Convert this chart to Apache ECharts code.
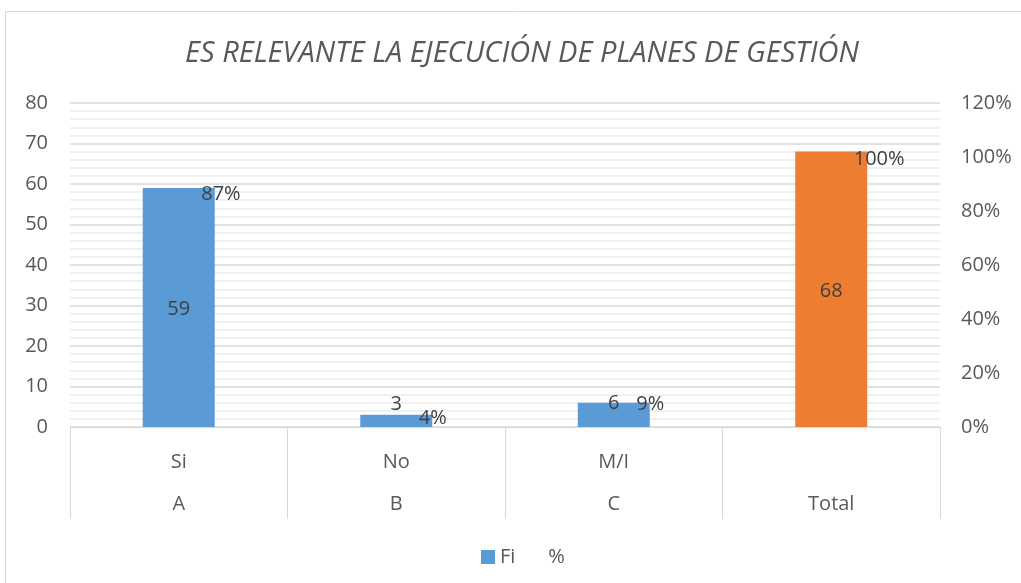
<!DOCTYPE html>
<html>
<head>
<meta charset="utf-8">
<script src="https://cdn.jsdelivr.net/npm/echarts@6/dist/echarts.min.js"></script>
<style>
html,body{margin:0;padding:0;background:#fff;}
#chart{width:1021px;height:583px;}
</style>
</head>
<body>
<div id="chart"></div>
<script>
var titleText = 'ES RELEVANTE LA EJECUCIÓN DE PLANES DE GESTIÓN';
var level1 = ['Si', 'No', 'M/I', ''];
var level2 = ['A', 'B', 'C', 'Total'];
var fiValues = [59, 3, 6, 68];
var pctValues = [0.87, 0.04, 0.09, 1.00];
var pctLabels = ['87%', '4%', '9%', '100%'];
var leftTicks = {min: 0, max: 80, interval: 10};
var rightTicks = {min: 0, max: 1.2, interval: 0.2};

var FONT = '"Open Sans", "Noto Sans", sans-serif';
var BLUE = '#5b9bd5', ORANGE = '#ed7d31';

var fiData = fiValues.map(function (v, i) {
  var d = {value: v};
  if (i === 3) d.itemStyle = {color: ORANGE};
  if (i === 1) d.label = {position: 'top', distance: 3};
  if (i === 2) d.label = {position: 'top', distance: 0, offset: [0, 11]};
  return d;
});

var chart = echarts.init(document.getElementById('chart'), null, {renderer: 'canvas'});
chart.setOption({
  backgroundColor: '#fff',
  animation: false,
  textStyle: {fontFamily: FONT},
  graphic: [{
    type: 'rect', silent: true, z: -10,
    shape: {x: 5.5, y: 11.5, width: 1100, height: 620},
    style: {fill: 'none', stroke: '#d9d9d9', lineWidth: 1}
  }],
  title: {
    text: titleText, left: 185, top: 39, padding: 0,
    textStyle: {fontFamily: FONT, fontSize: 29, fontStyle: 'italic', fontWeight: 'normal', color: '#595959'}
  },
  legend: {
    bottom: 16, left: 481, itemWidth: 14, itemHeight: 14, itemGap: 14, padding: 0,
    textStyle: {fontFamily: FONT, fontSize: 20, color: '#595959'},
    data: [
      {name: 'Fi', icon: 'rect'},
      {name: '%', icon: 'rect', itemStyle: {opacity: 0}}
    ]
  },
  grid: {left: 70, right: 81, top: 103, bottom: 156, containLabel: false},
  xAxis: [{
    type: 'category', data: level1, position: 'bottom',
    axisLine: {show: true, lineStyle: {color: '#d9d9d9', width: 1}},
    axisTick: {show: true, interval: 0, length: 92, lineStyle: {color: '#d9d9d9', width: 1}},
    axisLabel: {margin: 25, fontSize: 20, color: '#595959', fontFamily: FONT, interval: 0}
  }, {
    type: 'category', data: level2, position: 'bottom',
    axisLine: {show: false}, axisTick: {show: false},
    axisLabel: {margin: 67, fontSize: 20, color: '#595959', fontFamily: FONT, interval: 0}
  }],
  yAxis: [{
    type: 'value', min: leftTicks.min, max: leftTicks.max, interval: leftTicks.interval,
    axisLine: {show: false}, axisTick: {show: false},
    axisLabel: {margin: 22, fontSize: 20, color: '#595959', fontFamily: FONT},
    splitLine: {show: true, lineStyle: {color: '#d9d9d9', width: 1.5}},
    minorTick: {show: false, splitNumber: 5},
    minorSplitLine: {show: true, lineStyle: {color: '#ececec', width: 1.5}}
  }, {
    type: 'value', min: rightTicks.min, max: rightTicks.max, interval: rightTicks.interval,
    axisLine: {show: false}, axisTick: {show: false},
    axisLabel: {margin: 21, fontSize: 20, color: '#595959', fontFamily: FONT,
      formatter: function (v) { return Math.round(v * 100) + '%'; }},
    splitLine: {show: false}
  }],
  series: [{
    name: 'Fi', type: 'bar', xAxisIndex: 0, yAxisIndex: 0,
    barWidth: 72, itemStyle: {color: BLUE},
    label: {show: true, position: 'inside', offset: [0, 2], fontSize: 20, color: '#404040', fontFamily: FONT},
    data: fiData
  }, {
    name: '%', type: 'line', xAxisIndex: 0, yAxisIndex: 1,
    symbol: 'circle', symbolSize: 1, showSymbol: true,
    lineStyle: {opacity: 0}, itemStyle: {color: 'rgba(0,0,0,0)'},
    label: {show: true, position: 'right', distance: 22, offset: [0, 2], fontSize: 20, color: '#404040', fontFamily: FONT,
      formatter: function (p) { return pctLabels[p.dataIndex]; }},
    data: pctValues
  }]
});
</script>
</body>
</html>
